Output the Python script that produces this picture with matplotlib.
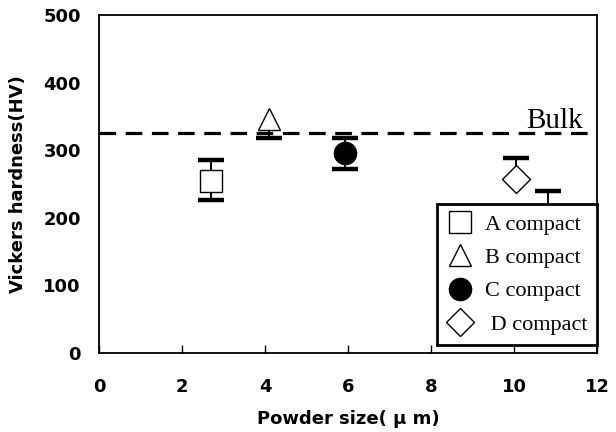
import numpy as np
import matplotlib
matplotlib.use("Agg")
import matplotlib.pyplot as plt
from matplotlib.lines import Line2D

# ── data ──────────────────────────────────────────────────────────────────
labels   = ["A compact", "B compact", "C compact", " D compact"]
size_um  = [2.70, 4.10, 5.92, 10.04]
hv       = [255, 346, 296, 257]
err_lo   = [28, 28, 24, 0]
err_hi   = [30, 0, 22, 31]
markers  = ["s", "^", "o", "D"]
faces    = ["white", "white", "black", "white"]
msizes   = [16, 16.5, 16, 14]

# stray error bar, mostly hidden behind the legend
stray_x, stray_y, stray_err = 10.83, 215, 25

bulk_hv = 326

CAP_MS, CAP_W, BAR_W = 19, 3.2, 1.4


def one_side(ax, x, y, d):
    """error bar from y to y+d (d may be negative), thick cap at the end"""
    if d == 0:
        return
    ax.plot([x, x], [y, y + d], color="black", lw=BAR_W, zorder=2)
    ax.plot(x, y + d, marker="_", ms=CAP_MS, mew=CAP_W, color="black",
            ls="none", zorder=2)


fig = plt.figure(figsize=(6.16, 4.32), dpi=100, facecolor="white")
ax = fig.add_axes([0.1607, 0.1829, 0.8085, 0.7824])

for sp in ax.spines.values():
    sp.set_linewidth(1.3)
    sp.set_color("black")

for x, y, lo, hi in zip(size_um, hv, err_lo, err_hi):
    one_side(ax, x, y, -lo)
    one_side(ax, x, y, hi)
one_side(ax, stray_x, stray_y, stray_err)
one_side(ax, stray_x, stray_y, -stray_err)

handles = []
for x, y, m, fc, ms, lab in zip(size_um, hv, markers, faces, msizes, labels):
    ax.plot(x, y, marker=m, ms=ms, mfc=fc, mec="black", mew=1.0,
            ls="none", zorder=3)
    handles.append(Line2D([], [], marker=m, ms=ms, mfc=fc, mec="black",
                          mew=1.0, ls="none", label=lab))

ax.axhline(bulk_hv, color="black", lw=2.3, ls=(0, (5.2, 3.0)), zorder=1)
ax.text(11.65, 333, "Bulk", ha="right", va="baseline",
        family="Liberation Serif", fontsize=21)

ax.set_xlim(0, 12)
ax.set_ylim(0, 500)
ax.set_xticks(np.arange(0, 13, 2))
ax.set_yticks(np.arange(0, 501, 100))
ax.tick_params(axis="x", direction="in", length=6, width=1, pad=18)
ax.tick_params(axis="y", length=0, pad=13)
for t in ax.get_xticklabels() + ax.get_yticklabels():
    t.set_fontweight("bold")
    t.set_fontsize(13)
    t.set_family("DejaVu Sans")

ax.set_xlabel("Powder size( μ m)", fontsize=13, fontweight="bold", labelpad=10)
ax.set_ylabel("Vickers hardness(HV)", fontsize=13, fontweight="bold", labelpad=12)

leg = ax.legend(handles=handles, loc="lower right",
                bbox_to_anchor=(1.0, 0.024), borderaxespad=0,
                prop={"family": "Liberation Serif", "size": 16},
                frameon=True, fancybox=False, framealpha=1,
                edgecolor="black", handlelength=1.2, handletextpad=0.5,
                labelspacing=0.58, borderpad=0.45)
leg.get_frame().set_linewidth(2)
leg.set_zorder(5)

fig.savefig("out.png", dpi=100, facecolor="white")
